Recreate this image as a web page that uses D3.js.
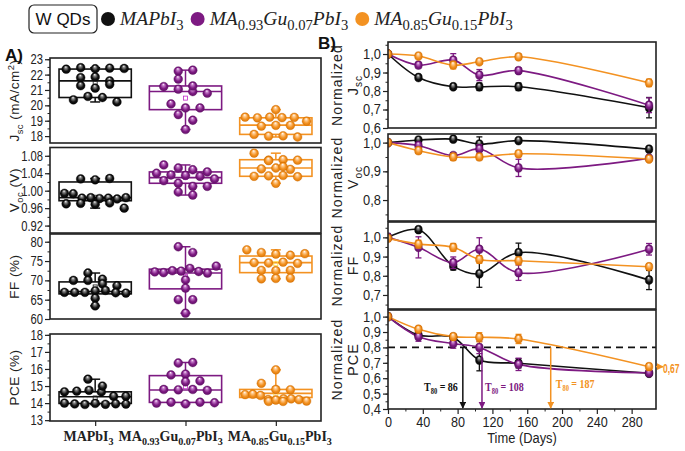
<!DOCTYPE html>
<html><head><meta charset="utf-8">
<script src="https://cdn.jsdelivr.net/npm/d3@7"></script>
<style>body{margin:0;background:#fff}svg{display:block}</style>
</head><body><svg id="c" width="685" height="451"></svg>
<script>
// ---------------- DATA ----------------
const categories = ["MAPbI_{3}", "MA_{0.93}Gu_{0.07}PbI_{3}", "MA_{0.85}Gu_{0.15}PbI_{3}"];
const colors = ["#111111", "#7d1a82", "#f39222"];

const jscPoints = [
  [22.35,22.45,22.38,22.42,22.40,21.80,21.85,21.59,21.28,21.12,21.37,20.36,20.58,20.51,20.22],
  [22.23,22.29,21.71,21.22,21.05,20.90,20.79,21.26,20.09,19.83,19.83,19.40,19.03,18.43],
  [19.72,19.23,19.19,19.23,19.20,19.22,18.65,18.70,18.97,18.70,18.11,18.00,18.02,17.94]
];
const vocPoints = [
  [1.027,1.025,1.028,0.994,0.993,0.983,0.984,0.982,0.983,0.981,0.984,0.970,0.971,0.969,0.972,0.960],
  [1.059,1.052,1.048,1.043,1.040,1.036,1.035,1.033,1.027,1.023,1.017,1.010,1.010,0.997,0.990],
  [1.086,1.070,1.071,1.069,1.070,1.050,1.052,1.049,1.055,1.033,1.034,1.035,1.032,1.017]
];
const ffPoints = [
  [71.9,70.0,70.3,70.0,69.1,68.6,66.9,66.9,66.9,67.3,67.4,66.8,66.7,65.4,63.4],
  [78.7,77.2,72.2,72.0,72.5,72.4,73.1,72.3,71.9,73.7,70.1,68.0,65.0,65.0,61.5],
  [77.9,77.2,76.8,76.5,76.9,74.6,74.5,74.7,74.4,72.6,72.5,72.6,70.4,70.5,70.6]
];
const pcePoints = [
  [15.4,14.66,14.7,14.75,14.65,15.0,14.4,14.4,14.0,13.95,13.92,13.98,13.93,13.96,13.94],
  [16.35,16.38,15.65,15.7,15.25,15.3,14.8,14.78,14.8,14.75,14.0,14.05,13.95,14.05,14.02],
  [15.95,15.16,14.8,14.78,14.5,14.52,14.45,14.2,14.1,14.18,14.25,14.25,14.2,14.1,14.12]
];
// box stats: [q1, median, q3, mean]
const jscBox = [[20.51,21.59,22.36,21.5],[19.72,20.90,21.26,20.47],[18.11,18.71,19.19,18.72]];
const vocBox = [[0.977,0.984,1.020,0.985],[1.017,1.030,1.043,1.030],[1.033,1.052,1.071,1.052]];
const ffBox  = [[66.5,67.1,69.6,68.3],[67.8,71.9,72.9,71.0],[72.0,74.6,76.3,74.3]];
const pceBox = [[13.98,14.37,14.66,14.3],[14.04,14.77,15.61,14.96],[14.33,14.57,14.80,14.5]];

const jscTicks = [18,19,20,21,22,23];
const vocTicks = [0.92,0.96,1.00,1.04,1.08];
const ffTicks  = [60,65,70,75,80];
const pceTicks = [13,14,15,16,17,18];

// Panel B: normalized stability
const days = [0,35,75,105,150,300];
const nJsc = [[1.0,0.873,0.823,0.823,0.823,0.71],[1.0,0.94,0.967,0.886,0.91,0.723],[1.0,0.989,0.94,0.958,0.985,0.844]];
const nJscErr = [[0,0.01,0.01,0.02,0.02,0.055],[0,0.015,0.035,0.03,0.015,0.04],[0,0.01,0.02,0.01,0.015,0.02]];
const nVoc = [[1.0,1.009,1.012,0.995,1.007,0.977],[1.0,0.99,0.955,0.978,0.912,0.946],[1.0,0.972,0.95,0.95,0.961,0.943]];
const nVocErr = [[0,0.005,0.005,0.025,0.005,0.005],[0,0.01,0.01,0.015,0.03,0.005],[0,0.01,0.012,0.01,0.01,0.008]];
const nFF = [[1.0,1.04,0.85,0.81,0.92,0.778],[1.0,0.948,0.868,0.938,0.816,0.938],[0.995,0.965,0.948,0.885,0.878,0.847]];
const nFFErr = [[0,0.01,0.02,0.07,0.05,0.05],[0.02,0.055,0.03,0.06,0.04,0.03],[0.01,0.02,0.02,0.02,0.02,0.01]];
const nPCE = [[1.0,0.88,0.865,0.718,0.697,0.632],[1.0,0.87,0.825,0.80,0.69,0.635],[1.0,0.918,0.87,0.866,0.855,0.675]];
const nPCEErr = [[0,0.02,0.02,0.07,0.03,0.015],[0,0.03,0.03,0.04,0.04,0.02],[0,0.015,0.02,0.03,0.03,0.02]];
const t80 = [86,108,187];
const t80Threshold = 0.8;
const finalPceLabel = "0,67";

const nJscTicks = [0.6,0.7,0.8,0.9,1.0];
const nVocTicks = [0.8,0.9,1.0];
const nFFTicks  = [0.7,0.8,0.9,1.0];
const nPCETicks = [0.4,0.5,0.6,0.7,0.8,0.9,1.0];
const dayTicks  = [0,40,80,120,160,200,240,280];

// ---------------- DRAW ----------------
const svg = d3.select("#c");
const defs = svg.append("defs");
const SANS = "'Liberation Sans', Arial, sans-serif";
const SERIF = "'Liberation Serif', 'Times New Roman', serif";
const lightC = ["#8a8a8a","#c77fcc","#ffd09a"];
const darkC = ["#000000","#5a0d60","#d56f00"];
colors.forEach((c,i)=>{
  const g = defs.append("radialGradient").attr("id","ball"+i)
    .attr("cx","50%").attr("cy","55%").attr("r","55%").attr("fx","45%").attr("fy","22%");
  g.append("stop").attr("offset","0%").attr("stop-color","#ffffff");
  g.append("stop").attr("offset","22%").attr("stop-color",lightC[i]);
  g.append("stop").attr("offset","60%").attr("stop-color",c);
  g.append("stop").attr("offset","100%").attr("stop-color",darkC[i]);
  defs.append("marker").attr("id","arr"+i).attr("viewBox","0 0 10 10").attr("refX",9).attr("refY",5)
    .attr("markerWidth",7).attr("markerHeight",7).attr("markerUnits","userSpaceOnUse").attr("orient","auto")
    .append("path").attr("d","M0,0L10,5L0,10z").attr("fill",c);
});

function rich(sel, str, fs, opts={}) {
  const sub = opts.sub || 0.7, subOff = opts.subOff || 0.28;
  const parts = str.split(/(_\{[^}]*\}|\^\{[^}]*\})/).filter(s=>s.length);
  let shift = 0;
  parts.forEach(p=>{
    let t=p, off=0, size=fs, isSub=false;
    if (p.startsWith("_{")) { t=p.slice(2,-1); off=subOff*fs; size=sub*fs; isSub=true; }
    else if (p.startsWith("^{")) { t=p.slice(2,-1); off=-0.4*fs; size=0.7*fs; isSub=true; }
    const ts = sel.append("tspan").attr("dy", off-shift).attr("font-size", size).text(t);
    if (opts.italic && !isSub) ts.attr("font-style","italic");
    shift = off;
  });
  return sel;
}
function squeeze(sel, f) {
  sel.each(function(){ const L = this.getComputedTextLength(); d3.select(this).attr("textLength", L*f).attr("lengthAdjust","spacingAndGlyphs"); });
}

// ----- Panel A -----
const ax0 = 50, ax1 = 321;
const xA = d3.scalePoint().domain(categories).range([ax0, ax1]).padding(0.5);
const boxW = xA.step()*0.8;
const colStep = 14.5, R = 4.4;

const aPanels = [
  {pts:jscPoints, box:jscBox, dom:[17.55,23.08], top:58, bot:143, ticks:jscTicks, minor:0.5, fmt:d3.format("d"), label:"J_{sc} (mA/cm^{2})"},
  {pts:vocPoints, box:vocBox, dom:[0.903,1.099], top:147.5, bot:233, ticks:vocTicks, minor:0.02, fmt:d3.format(".2f"), label:"V_{oc} (V)"},
  {pts:ffPoints,  box:ffBox,  dom:[60,82], top:234, bot:319, ticks:ffTicks, minor:2.5, fmt:d3.format("d"), label:"FF (%)"},
  {pts:pcePoints, box:pceBox, dom:[12.95,18.05], top:334, bot:421, ticks:pceTicks, minor:0.5, fmt:d3.format("d"), label:"PCE (%)"}
];

// deterministic swarm: points whose pixel heights are close share a row and are spread sideways
function swarm(vals, y, binPx, maxW) {
  const items = vals.map((v,i)=>({v, i, py:y(v)}));
  const sorted = items.slice().sort((a,b)=>a.py-b.py);
  const rows = []; let cur = null;
  sorted.forEach(d=>{
    if (!cur || d.py - cur.start > binPx) { cur = {start:d.py, list:[]}; rows.push(cur); }
    cur.list.push(d);
  });
  rows.forEach(r=>{
    const n = r.list.length;
    r.list.sort((a,b)=>a.i-b.i);
    const sp = n>1 ? Math.min(colStep, maxW/(n-1)) : 0;
    r.list.forEach((d,k)=>{ d.dx = (k-(n-1)/2)*sp; });
  });
  return items;
}

aPanels.forEach((p,pi)=>{
  const y = d3.scaleLinear().domain(p.dom).range([p.bot, p.top]);
  const g = svg.append("g");
  g.append("rect").attr("x",ax0).attr("y",p.top).attr("width",ax1-ax0).attr("height",p.bot-p.top)
    .attr("fill","none").attr("stroke","#222").attr("stroke-width",1.6);
  const minorVals = d3.range(Math.ceil(p.dom[0]/p.minor)*p.minor, p.dom[1]+1e-9, p.minor);
  g.append("g").attr("transform",`translate(${ax0},0)`)
    .call(d3.axisLeft(y).tickValues(minorVals).tickSize(2.5).tickFormat(""))
    .call(s=>{s.select(".domain").remove(); s.selectAll("line").attr("stroke","#222");});
  g.append("g").attr("transform",`translate(${ax0},0)`)
    .call(d3.axisLeft(y).tickValues(p.ticks).tickSize(5).tickPadding(2).tickFormat(p.fmt))
    .call(s=>{s.select(".domain").remove(); s.selectAll("line").attr("stroke","#222").attr("stroke-width",1.2);
      s.selectAll("text").attr("font-family",SANS).attr("font-size",14).attr("fill","#222").call(squeeze,0.8);});
  const lt = g.append("text").attr("transform",`translate(${19},${(p.top+p.bot)/2}) rotate(-90)`)
    .attr("text-anchor","middle").attr("font-family",SANS).attr("fill","#222").attr("letter-spacing","0.5px");
  rich(lt, p.label, 13.5);

  categories.forEach((c,ci)=>{
    const cx = xA(c), col = colors[ci], b = p.box[ci];
    const vals = p.pts[ci];
    const lo = d3.min(vals), hi = d3.max(vals);
    const bg = g.append("g");
    bg.append("line").attr("x1",cx).attr("x2",cx).attr("y1",y(b[2])).attr("y2",y(hi)).attr("stroke",col).attr("stroke-width",1.5);
    bg.append("line").attr("x1",cx).attr("x2",cx).attr("y1",y(b[0])).attr("y2",y(lo)).attr("stroke",col).attr("stroke-width",1.5);
    [lo,hi].forEach(v=>bg.append("line").attr("x1",cx-5).attr("x2",cx+5).attr("y1",y(v)).attr("y2",y(v)).attr("stroke",col).attr("stroke-width",1.5));
    bg.append("rect").attr("x",cx-boxW/2).attr("y",y(b[2])).attr("width",boxW).attr("height",y(b[0])-y(b[2]))
      .attr("fill","none").attr("stroke",col).attr("stroke-width",1.6);
    bg.append("line").attr("x1",cx-boxW/2).attr("x2",cx+boxW/2).attr("y1",y(b[1])).attr("y2",y(b[1])).attr("stroke",col).attr("stroke-width",1.6);
    bg.append("rect").attr("x",cx-2).attr("y",y(b[3])-2).attr("width",4).attr("height",4)
      .attr("fill","none").attr("stroke",d3.color(col).brighter(1.2)).attr("stroke-width",0.8);
    const items = swarm(vals, y, 7, boxW-2*R-2);
    bg.selectAll("circle.pt").data(items).join("circle").attr("class","pt")
      .attr("cx",d=>cx+d.dx).attr("cy",d=>d.py).attr("r",R)
      .attr("fill",`url(#ball${ci})`).attr("stroke",darkC[ci]).attr("stroke-width",0.4);
  });

  if (pi===3) {
    g.append("g").attr("transform",`translate(0,${p.bot})`)
      .call(d3.axisBottom(xA).tickSize(5).tickFormat(""))
      .call(s=>{s.select(".domain").remove(); s.selectAll("line").attr("stroke","#222").attr("stroke-width",1.2);});
    const texts = categories.map(c=>{
      const t = g.append("text").attr("y",441).attr("font-family",SERIF).attr("font-weight","bold").attr("fill","#222");
      rich(t, c, 14, {sub:0.72, subOff:0.25});
      return {t, L:t.node().getComputedTextLength()};
    });
    const gap = 5;
    let right = xA(categories[2]) + 4 + texts[2].L/2;
    for (let i=2;i>=0;i--) {
      texts[i].t.attr("x", right - texts[i].L);
      right = right - texts[i].L - gap;
    }
  }
});

// ----- Panel B -----
const bx0 = 388, bx1 = 656;
const xB = d3.scaleLinear().domain([0,308]).range([bx0, bx1]);
const bPanels = [
  {vals:nJsc, err:nJscErr, dom:[0.6,1.065], top:42, bot:128, ticks:nJscTicks, label:"J_{sc}"},
  {vals:nVoc, err:nVocErr, dom:[0.727,1.03], top:134, bot:221, ticks:nVocTicks, label:"V_{oc}"},
  {vals:nFF,  err:nFFErr,  dom:[0.627,1.08], top:222, bot:309, ticks:nFFTicks, label:"FF"},
  {vals:nPCE, err:nPCEErr, dom:[0.4,1.043], top:310, bot:409, ticks:nPCETicks, label:"PCE"}
];
const commaFmt = d=>d3.format(".1f")(d).replace(".",",");

bPanels.forEach((p,pi)=>{
  const y = d3.scaleLinear().domain(p.dom).range([p.bot, p.top]);
  const g = svg.append("g");
  const cid = "clipB"+pi;
  defs.append("clipPath").attr("id",cid).append("rect").attr("x",bx0).attr("y",p.top).attr("width",bx1-bx0).attr("height",p.bot-p.top);
  const minorVals = d3.range(Math.ceil(p.dom[0]/0.05)*0.05, p.dom[1]+1e-9, 0.05);
  g.append("g").attr("transform",`translate(${bx0},0)`)
    .call(d3.axisLeft(y).tickValues(minorVals).tickSize(2.5).tickFormat(""))
    .call(s=>{s.select(".domain").remove(); s.selectAll("line").attr("stroke","#222");});
  g.append("g").attr("transform",`translate(${bx0},0)`)
    .call(d3.axisLeft(y).tickValues(p.ticks).tickSize(5).tickPadding(2).tickFormat(commaFmt))
    .call(s=>{s.select(".domain").remove(); s.selectAll("line").attr("stroke","#222").attr("stroke-width",1.2);
      s.selectAll("text").attr("font-family",SANS).attr("font-size",14).attr("fill","#222").call(squeeze,0.92);});
  const cy = (p.top+p.bot)/2;
  g.append("text").attr("transform",`translate(342,${cy}) rotate(-90)`).attr("text-anchor","middle")
    .attr("font-family",SANS).attr("font-size",14).attr("fill","#222").attr("letter-spacing","1.1px").text("Normalized");
  const lt = g.append("text").attr("transform",`translate(358,${cy}) rotate(-90)`).attr("text-anchor","middle")
    .attr("font-family",SANS).attr("fill","#222").attr("letter-spacing","1px");
  rich(lt, p.label, 14.5);

  const plot = g.append("g").attr("clip-path",`url(#${cid})`);
  if (pi===3) {
    plot.append("line").attr("x1",bx0).attr("x2",bx1).attr("y1",y(t80Threshold)).attr("y2",y(t80Threshold))
      .attr("stroke","#111").attr("stroke-width",1.6).attr("stroke-dasharray","7,5");
  }
  const line = d3.line().x((d,i)=>xB(days[i])).y(d=>y(d)).curve(d3.curveCatmullRom.alpha(0.5));
  p.vals.forEach((s,si)=>{
    plot.append("path").attr("d",line(s)).attr("fill","none").attr("stroke",colors[si]).attr("stroke-width",1.6);
  });
  p.vals.forEach((s,si)=>{
    s.forEach((v,i)=>{
      const e = p.err[si][i], x = xB(days[i]);
      if (e>0) {
        plot.append("line").attr("x1",x).attr("x2",x).attr("y1",y(v-e)).attr("y2",y(v+e)).attr("stroke",colors[si]).attr("stroke-width",1.3);
        [v-e,v+e].forEach(w=>plot.append("line").attr("x1",x-3).attr("x2",x+3).attr("y1",y(w)).attr("y2",y(w)).attr("stroke",colors[si]).attr("stroke-width",1.3));
      }
      plot.append("ellipse").attr("cx",x).attr("cy",y(v)).attr("rx",3.8).attr("ry",4.4)
        .attr("fill",`url(#ball${si})`).attr("stroke",darkC[si]).attr("stroke-width",0.5);
    });
  });
  g.append("rect").attr("x",bx0).attr("y",p.top).attr("width",bx1-bx0).attr("height",p.bot-p.top)
    .attr("fill","none").attr("stroke","#222").attr("stroke-width",1.6);

  if (pi===3) {
    g.append("g").attr("transform",`translate(0,${p.bot})`)
      .call(d3.axisBottom(xB).tickValues(d3.range(20,300,40)).tickSize(2.5).tickFormat(""))
      .call(s=>{s.select(".domain").remove(); s.selectAll("line").attr("stroke","#222");});
    g.append("g").attr("transform",`translate(0,${p.bot})`)
      .call(d3.axisBottom(xB).tickValues(dayTicks).tickSize(5).tickPadding(3))
      .call(s=>{s.select(".domain").remove(); s.selectAll("line").attr("stroke","#222").attr("stroke-width",1.2);
        s.selectAll("text").attr("font-family",SANS).attr("font-size",14).attr("fill","#222").call(squeeze,0.9);});
    g.append("text").attr("x",(bx0+bx1)/2).attr("y",443).attr("text-anchor","middle")
      .attr("font-family",SANS).attr("font-size",14).attr("fill","#222").text("Time (Days)").call(squeeze,0.92);
    t80.forEach((t,i)=>{
      g.append("line").attr("x1",xB(t)).attr("x2",xB(t)).attr("y1",y(t80Threshold)).attr("y2",p.bot-1)
        .attr("stroke",colors[i]).attr("stroke-width",1.5).attr("marker-end",`url(#arr${i})`);
    });
    const labPos = [{x:xB(t80[0])-5, y:391, a:"end"},{x:xB(t80[1])+3, y:391, a:"start"},{x:xB(t80[2])+5, y:388, a:"start"}];
    t80.forEach((t,i)=>{
      const holder = g.append("g").attr("transform",`translate(${labPos[i].x},${labPos[i].y}) scale(0.8,1)`);
      const tt = holder.append("text").attr("x",0).attr("y",0).attr("text-anchor",labPos[i].a)
        .attr("font-family",SERIF).attr("font-weight","bold").attr("fill",colors[i]);
      rich(tt, "T_{80} = "+t, 12.5, {sub:0.65, subOff:0.25});
    });
    const yf = y(nPCE[2][5]);
    g.append("line").attr("x1",bx1).attr("x2",bx1+7).attr("y1",yf).attr("y2",yf)
      .attr("stroke",colors[2]).attr("stroke-width",1.5).attr("marker-end","url(#arr2)");
    g.append("g").attr("transform",`translate(${bx1+7},${yf+6}) scale(0.68,1)`)
      .append("text").attr("x",0).attr("y",0).attr("font-family",SANS).attr("font-weight","bold")
      .attr("font-size",12.5).attr("fill",colors[2]).text(finalPceLabel);
  }
});

// ----- panel letters -----
svg.append("text").attr("x",5).attr("y",61).attr("font-family",SANS).attr("font-weight","bold").attr("font-size",17).attr("fill","#111").text("A)");
svg.append("text").attr("x",318).attr("y",49).attr("font-family",SANS).attr("font-weight","bold").attr("font-size",17).attr("fill","#111").text("B)");

// ----- legend -----
const lg = svg.append("g");
lg.append("rect").attr("x",29).attr("y",5).attr("width",68).attr("height",28).attr("rx",5)
  .attr("fill","#fff").attr("stroke","#222").attr("stroke-width",1.2);
lg.append("text").attr("x",63).attr("y",25).attr("text-anchor","middle").attr("font-family",SANS)
  .attr("font-size",17).attr("fill","#111").text("W QDs");
let lx = 101;
categories.forEach((c,i)=>{
  lg.append("circle").attr("cx",lx+7).attr("cy",19).attr("r",7).attr("fill",colors[i]);
  const t = lg.append("text").attr("x",lx+19).attr("y",25).attr("font-family",SERIF).attr("fill","#222");
  rich(t, c, 19.5, {italic:true, sub:0.75, subOff:0.25});
  lx += 19 + t.node().getComputedTextLength() + 7;
});
</script></body></html>
